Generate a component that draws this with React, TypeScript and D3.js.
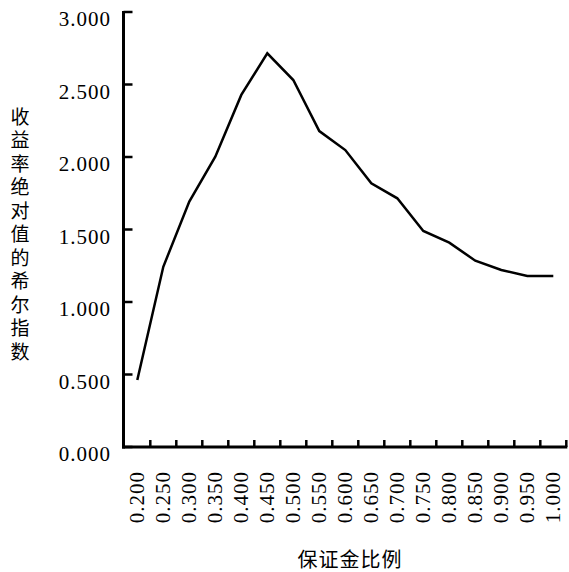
import React from "react";
import * as d3 from "d3";

const categories = ["0.200","0.250","0.300","0.350","0.400","0.450","0.500","0.550","0.600","0.650","0.700","0.750","0.800","0.850","0.900","0.950","1.000"];
const values = [0.462,1.243,1.692,2.002,2.428,2.715,2.531,2.179,2.048,1.818,1.715,1.490,1.409,1.285,1.221,1.179,1.179];
const yTicks = [0,0.5,1,1.5,2,2.5,3];
const yTitle = "收益率绝对值的希尔指数";
const xTitle = "保证金比例";

export default function App() {
  const W = 569, H = 572;
  const x0 = 124.3, x1 = 566.3, yTop = 12, yBot = 447;
  const axisX = 123.5;
  const x = d3.scaleBand().domain(categories).range([x0, x1]).padding(0);
  const y = d3.scaleLinear().domain([0, 3]).range([yBot, yTop]);
  const line = d3.line<number>()
    .x((_, i) => (x(categories[i]) as number) + x.bandwidth() / 2)
    .y((d) => y(d));
  const serif = "'Liberation Serif', 'DejaVu Serif', serif";
  const cjk = "'Noto Sans CJK SC', sans-serif";
  return (
    <svg width={W} height={H} style={{ position: "absolute", left: 0, top: 0, background: "#fff" }}>
      {/* y axis */}
      <line x1={axisX} x2={axisX} y1={yTop - 1} y2={yBot + 1.5} stroke="#000" strokeWidth={3} />
      {yTicks.map((t) => (
        <g key={t}>
          <line x1={axisX} x2={axisX + 9} y1={y(t)} y2={y(t)} stroke="#000" strokeWidth={2.5} />
          <text x={111} y={y(t) + 7} textAnchor="end" dominantBaseline="central" letterSpacing={1}
            fontFamily={serif} fontSize={21} fill="#000">{t.toFixed(3)}</text>
        </g>
      ))}
      {/* x axis */}
      <line x1={axisX - 1.5} x2={x1 + 1} y1={yBot} y2={yBot} stroke="#000" strokeWidth={3} />
      {categories.map((c) => {
        const bx = (x(c) as number) + x.bandwidth();
        const cx = (x(c) as number) + x.bandwidth() / 2;
        return (
          <g key={c}>
            <line x1={bx} x2={bx} y1={yBot} y2={yBot - 7} stroke="#000" strokeWidth={2.5} />
            <text transform={`translate(${cx},471) rotate(-90)`} textAnchor="end" dominantBaseline="central" letterSpacing={1}
              fontFamily={serif} fontSize={21} fill="#000">{c}</text>
          </g>
        );
      })}
      {/* line */}
      <path d={line(values) || ""} fill="none" stroke="#000" strokeWidth={2.5} strokeLinejoin="miter" />
      {/* y title */}
      <text x={20} y={107} style={{ writingMode: "vertical-rl" }} letterSpacing={4.5}
        fontFamily={cjk} fontSize={19} fill="#000">{yTitle}</text>
      {/* x title */}
      <text x={350} y={558} textAnchor="middle" dominantBaseline="central" letterSpacing={1}
        fontFamily={cjk} fontSize={20} fill="#000">{xTitle}</text>
    </svg>
  );
}
